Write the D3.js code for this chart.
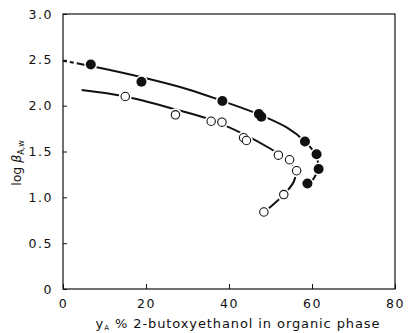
<!DOCTYPE html>
<html><head><meta charset="utf-8">
<script src="https://cdn.jsdelivr.net/npm/d3@7"></script>
<style>body{margin:0;background:#fff}svg{display:block}text{font-family:"DejaVu Sans",sans-serif;fill:#111}</style>
</head><body>
<svg id="c" width="410" height="333"></svg>
<script>
// filled circles (series 1)
const filledX = [6.7, 18.9, 38.4, 47.2, 47.8, 58.3, 61.1, 61.6, 58.9];
const filledY = [2.45, 2.26, 2.05, 1.91, 1.88, 1.61, 1.47, 1.31, 1.15];
// open circles (series 2)
const openX = [15.0, 27.1, 35.7, 38.3, 43.5, 44.2, 51.9, 54.6, 56.3, 53.2, 48.4];
const openY = [2.10, 1.90, 1.83, 1.82, 1.65, 1.62, 1.46, 1.41, 1.29, 1.03, 0.84];
// fitted curves
const curve1X = [0, 7, 19, 30, 38.5, 47.5, 54, 58.3, 60.8, 61.5, 60.6, 58.9];
const curve1Y = [2.49, 2.43, 2.31, 2.18, 2.05, 1.90, 1.76, 1.61, 1.47, 1.33, 1.22, 1.13];
const curve2X = [4.5, 15, 27, 36, 43.5, 50, 54, 56, 55.6, 53.2, 50.6, 48.4];
const curve2Y = [2.17, 2.10, 1.96, 1.84, 1.69, 1.53, 1.41, 1.29, 1.17, 1.03, 0.92, 0.84];
const xTicks = [0, 20, 40, 60, 80];
const yTicks = [0, 0.5, 1.0, 1.5, 2.0, 2.5, 3.0];
const yTickLabels = ["0", "0.5", "1.0", "1.5", "2.0", "2.5", "3.0"];

const svg = d3.select("#c");
const x = d3.scaleLinear().domain([0, 80]).range([63, 395]);
const y = d3.scaleLinear().domain([0, 3]).range([289, 14]);

// frame
svg.append("rect").attr("x", x(0)).attr("y", y(3)).attr("width", x(80) - x(0)).attr("height", y(0) - y(3))
  .attr("fill", "none").attr("stroke", "#111").attr("stroke-width", 1.2);

const xAxis = d3.axisBottom(x).tickValues(xTicks).tickSize(-5).tickPadding(10).tickFormat(d3.format("d"));
const gx = svg.append("g").attr("transform", `translate(0,${y(0)})`).call(xAxis);
const yAxis = d3.axisLeft(y).tickValues(yTicks).tickSize(-4).tickPadding(10).tickFormat((d, i) => yTickLabels[i]);
const gy = svg.append("g").attr("transform", `translate(${x(0)},0)`).call(yAxis);
[gx, gy].forEach(g => {
  g.select(".domain").remove();
  g.selectAll("line").attr("stroke", "#111").attr("stroke-width", 1);
  g.selectAll("text").attr("font-size", 12.5).attr("font-family", "DejaVu Sans").attr("letter-spacing", 1.5).attr("fill", "#111");
});

const line = d3.line().x(d => x(d[0])).y(d => y(d[1])).curve(d3.curveCatmullRom.alpha(0.5));
const c1 = curve1X.map((v, i) => [v, curve1Y[i]]);
const c2 = curve2X.map((v, i) => [v, curve2Y[i]]);
svg.append("path").attr("d", line(c1)).attr("fill", "none").attr("stroke", "#111").attr("stroke-width", 2)
  .attr("stroke-dasharray", "4,3,4,3,300,6,150,6,200");
svg.append("path").attr("d", line(c2)).attr("fill", "none").attr("stroke", "#111").attr("stroke-width", 2)
  .attr("stroke-dasharray", "300,6,200");

const openPts = openX.map((v, i) => [v, openY[i]]);
const filledPts = filledX.map((v, i) => [v, filledY[i]]);
// white halos that break the lines around the markers
svg.append("g").selectAll("circle").data(openPts.concat(filledPts)).join("circle")
  .attr("cx", d => x(d[0])).attr("cy", d => y(d[1])).attr("r", 6.5).attr("fill", "#fff");
svg.append("g").selectAll("circle").data(openPts).join("circle")
  .attr("cx", d => x(d[0])).attr("cy", d => y(d[1])).attr("r", 4.2)
  .attr("fill", "#fff").attr("stroke", "#111").attr("stroke-width", 1.1);
svg.append("g").selectAll("circle").data(filledPts).join("circle")
  .attr("cx", d => x(d[0])).attr("cy", d => y(d[1])).attr("r", 5)
  .attr("fill", "#111");

// axis titles
const yl = svg.append("text").attr("transform", `translate(21,163) rotate(-90)`)
  .attr("text-anchor", "middle").attr("font-size", 12.5);
yl.append("tspan").text("log ");
yl.append("tspan").attr("font-style", "italic").text("β");
yl.append("tspan").attr("font-size", 8).attr("dy", 3).text("A,w");

const xl = svg.append("text").attr("x", 238).attr("y", 328).attr("text-anchor", "middle").attr("font-size", 13).attr("letter-spacing", 0.9);
xl.append("tspan").text("y");
xl.append("tspan").attr("font-size", 7).attr("dy", 2).text("A");
xl.append("tspan").attr("dy", -2).text(" % 2-butoxyethanol in organic phase");
</script>
</body></html>
